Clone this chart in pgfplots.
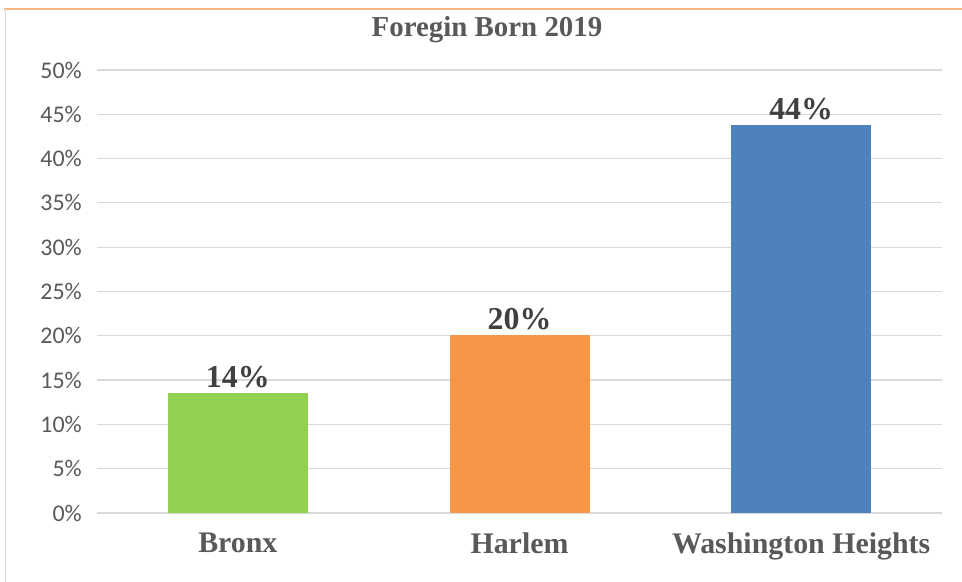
\documentclass[border=0pt]{standalone}
\usepackage{pgfplots}
\pgfplotsset{compat=1.18}
\usepackage{fontspec}
\setmainfont{Liberation Serif}
\newfontfamily\tickfont{Carlito}
\definecolor{gridc}{HTML}{D9D9D9}
\definecolor{tickc}{HTML}{595959}
\definecolor{labc}{HTML}{404040}
\definecolor{cgreen}{HTML}{92D050}
\definecolor{corange}{HTML}{F79646}
\definecolor{cblue}{HTML}{4F81BD}
\definecolor{topline}{HTML}{F4B183}
\begin{document}
\begin{tikzpicture}
\useasboundingbox (0,0) rectangle (962bp,582bp);
\fill[white] (0,0) rectangle (962bp,582bp);
\draw[topline, line width=1.2bp] (4bp,573bp) -- (962bp,573bp);
\draw[gridc, line width=1bp] (5bp,573bp) -- (5bp,0bp);
\node[font=\bfseries\fontsize{29}{33}\selectfont, text=tickc, anchor=base] at (487bp,545bp) {Foregin Born 2019};
\begin{axis}[
  at={(97bp,69bp)}, anchor=south west,
  scale only axis, width=845bp, height=443bp,
  xmin=-0.5, xmax=2.5, ymin=0, ymax=50,
  ytick={0,5,...,50},
  ymajorgrids, grid style={gridc, line width=1.2bp},
  axis line style={draw=none},
  major tick length=0pt,
  xtick={0,1,2},
  xticklabels={Bronx,Harlem,Washington Heights},
  xticklabel style={font=\bfseries\fontsize{30}{34}\selectfont, text=tickc, anchor=north, inner sep=0pt, yshift=-20bp},
  yticklabel={\pgfmathprintnumber[assume math mode=true]{\tick}\%},
  yticklabel style={font=\tickfont\fontsize{24}{28}\selectfont, text=tickc, anchor=east, inner sep=0pt, xshift=-15bp},
  clip=false,
]
\addplot[ybar, bar shift=0pt, bar width=140bp, fill=cgreen, draw=none,
  nodes near coords={14\%}, every node near coord/.style={font=\bfseries\fontsize{32}{36}\selectfont, text=labc, anchor=south, inner sep=0pt, yshift=5bp}]
  coordinates {(0,13.5)};
\addplot[ybar, bar shift=0pt, bar width=140bp, fill=corange, draw=none,
  nodes near coords={20\%}, every node near coord/.style={font=\bfseries\fontsize{32}{36}\selectfont, text=labc, anchor=south, inner sep=0pt, yshift=5bp}]
  coordinates {(1,20.1)};
\addplot[ybar, bar shift=0pt, bar width=140bp, fill=cblue, draw=none,
  nodes near coords={44\%}, every node near coord/.style={font=\bfseries\fontsize{32}{36}\selectfont, text=labc, anchor=south, inner sep=0pt, yshift=5bp}]
  coordinates {(2,43.8)};
\end{axis}
\end{tikzpicture}
\end{document}
